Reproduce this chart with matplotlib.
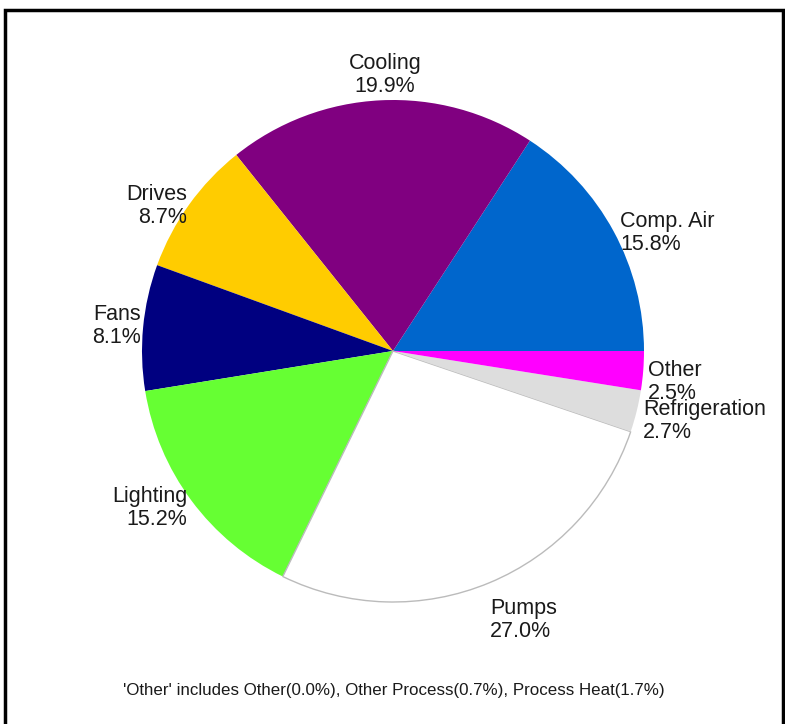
import matplotlib.pyplot as plt

plt.rcParams['font.family'] = ['Liberation Sans', 'DejaVu Sans']

categories = ["Comp. Air", "Cooling", "Drives", "Fans", "Lighting", "Pumps", "Refrigeration", "Other"]
shares = [15.8, 19.9, 8.7, 8.1, 15.2, 27.0, 2.7, 2.5]
colors = ["#0066CC", "#800080", "#FFCC00", "#000080", "#66FF33", "#FFFFFF", "#DDDDDD", "#FF00FF"]
footnote = "'Other' includes Other(0.0%), Other Process(0.7%), Process Heat(1.7%)"

# label anchors in pixel coords (x, y from top), alignment
label_pos = {
    "Comp. Air": (620, 233, "left"),
    "Cooling": (385, 75, "center"),
    "Drives": (187, 206, "right"),
    "Fans": (141, 326, "right"),
    "Lighting": (187, 508, "right"),
    "Pumps": (490, 620, "left"),
    "Refrigeration": (643, 421, "left"),
    "Other": (648, 382, "left"),
}

W, H = 785, 724
fig = plt.figure(figsize=(W / 100, H / 100), dpi=100)
ax = fig.add_axes([0, 0, 1, 1])

cx, cy, r = 393, H - 351, 251
wedges, _ = ax.pie(shares, colors=colors, startangle=0, counterclock=True,
                   center=(cx, cy), radius=r, frame=True,
                   wedgeprops=dict(linewidth=0))
ax.set_xlim(0, W)
ax.set_ylim(0, H)
ax.set_aspect('equal')
ax.axis('off')
# pumps wedge is white, outlined in light gray
pumps = wedges[categories.index("Pumps")]
pumps.set_edgecolor("#BBBBBB")
pumps.set_linewidth(1.0)

for name, val in zip(categories, shares):
    x, y, ha = label_pos[name]
    ax.text(x, H - y, f"{name}\n{val:.1f}%", ha=ha, va='center',
            multialignment=ha, fontsize=15.5, color='#1a1a1a', linespacing=1.12)

ax.text(394, H - 690, footnote, ha='center', va='center', fontsize=12.2, color='#1a1a1a')

# outer frame (open at the bottom)
ax.plot([5, 5, 783, 783], [0, H - 10, H - 10, 0], color='black', lw=2.5,
        solid_joinstyle='miter', clip_on=False)

fig.savefig("out.png", dpi=100)
